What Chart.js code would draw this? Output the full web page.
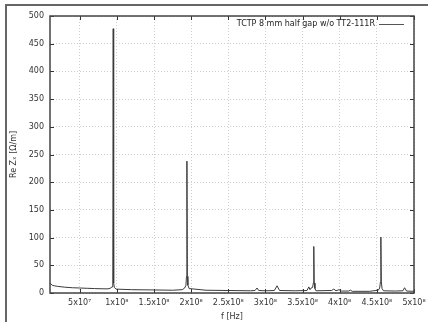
<!DOCTYPE html>
<html>
<head>
<meta charset="utf-8">
<script src="https://cdn.jsdelivr.net/npm/chart.js@4/dist/chart.umd.min.js"></script>
<style>
html,body{margin:0;padding:0;background:#fff;overflow:hidden;}
#wrap{position:relative;width:428px;height:322px;}
#frame{position:absolute;left:5px;top:4px;width:500px;height:400px;border:2px solid #666;box-sizing:border-box;pointer-events:none;}
canvas{position:absolute;left:0;top:0;}
</style>
</head>
<body>
<div id="wrap">
<canvas id="c" width="428" height="322"></canvas>
<div id="frame"></div>
</div>
<script>
// Data
const seriesLabel = "TCTP 8 mm half gap w/o TT2-111R";
const freqHz = [
  1.0e7, 1.3e7, 1.6e7, 2.0e7, 3.0e7, 4.0e7, 5.0e7, 6.0e7, 7.0e7, 8.0e7, 8.8e7, 9.1e7,
  9.35e7, 9.45e7, 9.51e7, 9.57e7, 9.66e7, 9.9e7,
  1.2e8, 1.5e8, 1.75e8, 1.88e8,
  1.913e8, 1.93e8, 1.937e8, 1.943e8, 1.949e8, 1.956e8, 1.973e8,
  2.2e8, 2.5e8, 2.8e8, 2.86e8, 2.887e8, 2.91e8, 3.0e8, 3.12e8, 3.156e8, 3.19e8, 3.4e8,
  3.56e8, 3.584e8, 3.60e8, 3.615e8, 3.635e8, 3.645e8, 3.651e8, 3.657e8, 3.667e8, 3.68e8,
  3.89e8, 3.92e8, 3.95e8, 3.99e8, 4.02e8, 4.12e8, 4.145e8, 4.17e8, 4.4e8,
  4.52e8, 4.538e8, 4.548e8, 4.554e8, 4.560e8, 4.57e8, 4.59e8,
  4.75e8, 4.85e8, 4.873e8, 4.90e8, 5.0e8
];
const reZ = [
  18, 14, 13, 12, 10.5, 9.5, 9, 8.5, 8, 7.6, 7.5, 8.5,
  11, 18, 477, 18, 10, 7,
  6, 5.5, 5, 6,
  9, 14, 30, 238, 30, 14, 8,
  5, 4.5, 4, 4.5, 9, 4.5, 4, 4.5, 13, 4.5, 4,
  4.5, 11, 6, 9, 10, 18, 84, 18, 8, 4,
  4.5, 7, 4, 6, 3.5, 3.5, 5, 3, 3,
  5, 9, 20, 101, 20, 8, 4,
  3.5, 4, 9.5, 3.5, 3
];
const xTickValues = [5e7, 1e8, 1.5e8, 2e8, 2.5e8, 3e8, 3.5e8, 4e8, 4.5e8, 5e8];
const xTickLabels = ["5x10\u2077", "1x10\u2078", "1.5x10\u2078", "2x10\u2078", "2.5x10\u2078", "3x10\u2078", "3.5x10\u2078", "4x10\u2078", "4.5x10\u2078", "5x10\u2078"];
const yTickValues = [0, 50, 100, 150, 200, 250, 300, 350, 400, 450, 500];
const xTitle = "f [Hz]";
const yTitle = "Re Z\u2093 [\u03A9/m]";

const FONT = "'DejaVu Sans', sans-serif";
const points = freqHz.map((f, i) => ({x: f, y: reZ[i]}));

const frameAndTicks = {
  id: 'frameAndTicks',
  afterDatasetsDraw(chart) {
    const {ctx, chartArea: a, scales: {x, y}} = chart;
    ctx.save();
    ctx.strokeStyle = '#333';
    ctx.lineWidth = 1;
    ctx.beginPath();
    xTickValues.forEach(v => {
      const px = Math.round(x.getPixelForValue(v)) + 0.5;
      ctx.moveTo(px, a.bottom); ctx.lineTo(px, a.bottom - 4);
      ctx.moveTo(px, a.top); ctx.lineTo(px, a.top + 4);
    });
    yTickValues.forEach(v => {
      const py = Math.round(y.getPixelForValue(v)) + 0.5;
      ctx.moveTo(a.left, py); ctx.lineTo(a.left + 4, py);
      ctx.moveTo(a.right, py); ctx.lineTo(a.right - 4, py);
    });
    ctx.stroke();
    ctx.lineWidth = 1.5;
    ctx.strokeStyle = '#444';
    ctx.strokeRect(a.left, a.top, a.right - a.left, a.bottom - a.top);
    // legend inside plot, top right
    ctx.font = "8px " + FONT;
    ctx.fillStyle = '#222';
    ctx.textAlign = 'right';
    ctx.textBaseline = 'middle';
    const ly = a.top + 8;
    ctx.fillText(seriesLabel, a.right - 39, ly);
    ctx.beginPath();
    ctx.lineWidth = 1;
    ctx.strokeStyle = '#555';
    ctx.moveTo(a.right - 35, ly + 0.5); ctx.lineTo(a.right - 10, ly + 0.5);
    ctx.stroke();
    ctx.restore();
  }
};

new Chart(document.getElementById('c'), {
  type: 'line',
  data: {
    datasets: [{
      label: seriesLabel,
      data: points,
      borderColor: '#3a3a3a',
      borderWidth: 1,
      pointRadius: 0,
      tension: 0,
      fill: false
    }]
  },
  options: {
    responsive: false,
    animation: false,
    events: [],
    layout: {padding: {left: 0, right: 14, top: 16, bottom: 0}},
    plugins: {legend: {display: false}, tooltip: {enabled: false}},
    scales: {
      x: {
        type: 'linear',
        min: 1e7, max: 5e8,
        afterBuildTicks: s => { s.ticks = xTickValues.map(v => ({value: v})); },
        afterFit: s => { s.height = 29; s.paddingRight = 0; s.paddingLeft = 0; },
        ticks: {
          callback: (v) => { const i = xTickValues.indexOf(v); return i >= 0 ? xTickLabels[i] : ''; },
          font: {family: FONT, size: 8}, color: '#333', padding: 5, maxRotation: 0, autoSkip: false
        },
        grid: {color: '#cfcfcf', lineWidth: 1, drawTicks: false},
        border: {display: false, dash: [1, 2]},
        title: {display: true, text: xTitle, font: {family: FONT, size: 8}, color: '#333', padding: {top: 3, bottom: 0}}
      },
      y: {
        type: 'linear',
        min: 0, max: 500,
        afterBuildTicks: s => { s.ticks = yTickValues.map(v => ({value: v})); },
        afterFit: s => { s.width = 50; s.paddingTop = 0; s.paddingBottom = 0; },
        ticks: {font: {family: FONT, size: 8}, color: '#333', padding: 6},
        grid: {color: '#cfcfcf', lineWidth: 1, drawTicks: false},
        border: {display: false, dash: [1, 2]},
        title: {display: true, text: yTitle, font: {family: FONT, size: 8}, color: '#333', padding: {top: 9, bottom: 0}}
      }
    }
  },
  plugins: [frameAndTicks]
});
</script>
</body>
</html>
